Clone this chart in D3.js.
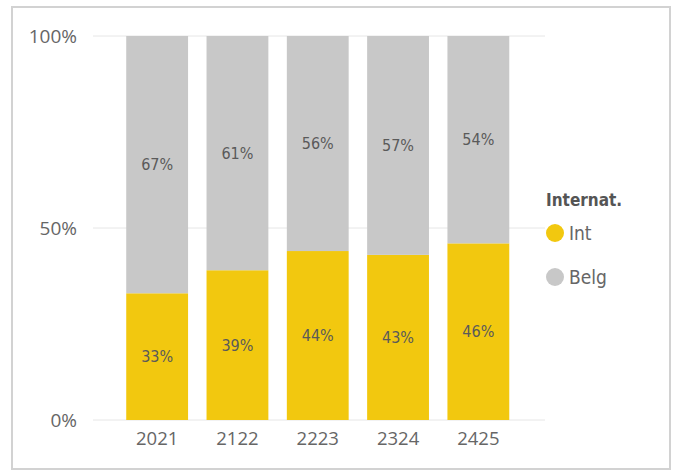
<!DOCTYPE html>
<html>
<head>
<meta charset="utf-8">
<script src="https://cdn.jsdelivr.net/npm/d3@7"></script>
<style>
    body { margin: 0; background: #fff; }
    svg { display: block; }
</style>
</head>
<body>
<div id="chart"></div>
<script>
// data
const years = ["2021", "2122", "2223", "2324", "2425"];
const intShare = [0.33, 0.39, 0.44, 0.43, 0.46];
const belgShare = [0.67, 0.61, 0.56, 0.57, 0.54];
const yTicks = [0, 0.5, 1];
const seriesNames = ["Int", "Belg"];
const legendTitle = "Internat.";

const width = 677;
const height = 472;
const colors = { Int: "#F2C80F", Belg: "#C8C8C8" };
const textGrey = "#666666";
const labelFont = "'DejaVu Sans Condensed', 'DejaVu Sans', sans-serif";
const axisFont = "'Open Sans', 'Noto Sans', sans-serif";

const svg = d3.select("#chart")
    .append("svg")
        .attr("width", width)
        .attr("height", height);

// visual frame
svg.append("rect")
    .attr("x", 12)
    .attr("y", 7)
    .attr("width", 658)
    .attr("height", 462)
    .attr("fill", "#fff")
    .attr("stroke", "#d2d2d2")
    .attr("stroke-width", 2);

const x = d3.scaleBand()
    .domain(years)
    .range([117, 518.5])
    .paddingInner(0.23)
    .paddingOuter(0.115);

const y = d3.scaleLinear()
    .domain([0, 1])
    .range([420, 36]);

// stack the two series
const rows = years.map((yr, i) => ({ year: yr, Int: intShare[i], Belg: belgShare[i] }));
const stacked = d3.stack().keys(seriesNames)(rows);

// gridlines
svg.append("g")
    .selectAll("line")
    .data(yTicks)
    .join("line")
        .attr("x1", 93)
        .attr("x2", 545)
        .attr("y1", d => y(d))
        .attr("y2", d => y(d))
        .attr("stroke", "#e6e6e6")
        .attr("stroke-width", 1);

// y axis labels
const yAxis = svg.append("g")
    .attr("transform", "translate(77, 0)")
    .call(d3.axisLeft(y).tickValues(yTicks).tickFormat(d3.format(".0%")).tickSize(0).tickPadding(0));
yAxis.select(".domain").remove();
yAxis.selectAll("text")
    .attr("fill", textGrey)
    .style("font-family", axisFont)
    .style("font-size", "19px");

// x axis labels
const xAxis = svg.append("g")
    .attr("transform", "translate(0, 432)")
    .call(d3.axisBottom(x).tickSize(0).tickPadding(0));
xAxis.select(".domain").remove();
xAxis.selectAll("text")
    .attr("fill", textGrey)
    .attr("dy", "0.71em")
    .style("font-family", axisFont)
    .style("font-size", "18.5px");

// bars
const layers = svg.append("g")
    .selectAll("g")
    .data(stacked)
    .join("g")
        .attr("fill", d => colors[d.key]);

layers.selectAll("rect")
    .data(d => d)
    .join("rect")
        .attr("x", d => x(d.data.year))
        .attr("y", d => y(d[1]))
        .attr("width", x.bandwidth())
        .attr("height", d => y(d[0]) - y(d[1]));

// segment labels
layers.selectAll("text")
    .data(d => d)
    .join("text")
        .attr("x", d => x(d.data.year) + x.bandwidth() / 2)
        .attr("y", d => (y(d[0]) + y(d[1])) / 2)
        .attr("dy", "0.35em")
        .attr("text-anchor", "middle")
        .attr("fill", "#5a5a5a")
        .style("font-family", labelFont)
        .style("font-size", "16px")
        .text(d => d3.format(".0%")(d[1] - d[0]));

// legend
const legend = svg.append("g")
    .attr("transform", "translate(546, 0)");

legend.append("text")
    .attr("x", 0)
    .attr("y", 200)
    .attr("dy", "0.35em")
    .attr("fill", "#555")
    .attr("font-weight", "bold")
    .style("font-family", labelFont)
    .style("font-size", "17px")
    .text(legendTitle);

const legendItems = legend.selectAll("g.item")
    .data(seriesNames)
    .join("g")
        .attr("class", "item")
        .attr("transform", (d, i) => `translate(0, ${233 + i * 44})`);

legendItems.append("circle")
    .attr("cx", 9)
    .attr("cy", 0)
    .attr("r", 9)
    .attr("fill", d => colors[d]);

legendItems.append("text")
    .attr("x", 23)
    .attr("dy", "0.35em")
    .attr("fill", textGrey)
    .style("font-family", labelFont)
    .style("font-size", "19px")
    .text(d => d);
</script>
</body>
</html>
